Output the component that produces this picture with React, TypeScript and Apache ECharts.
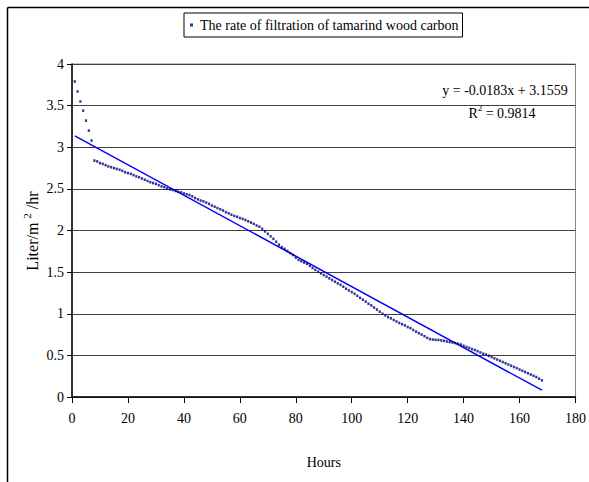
import React, { useEffect, useRef } from "react";
import * as echarts from "echarts";

// Hourly filtration rate readings (Liter/m^2/hr), first reading at hour 1
const FIRST_HOUR = 1;
const rate: number[] = [
  3.79, 3.67, 3.55, 3.44, 3.32, 3.2, 3.08,
  2.84, 2.83, 2.81, 2.8, 2.785, 2.77, 2.76, 2.75, 2.74, 2.73,
  2.717, 2.7, 2.69, 2.68, 2.665, 2.65, 2.64, 2.625, 2.61, 2.595,
  2.58, 2.57, 2.56, 2.545, 2.53, 2.52, 2.505, 2.495, 2.486, 2.475,
  2.465, 2.458, 2.445, 2.435, 2.426, 2.41, 2.39, 2.374, 2.36, 2.35,
  2.335, 2.32, 2.3, 2.286, 2.27, 2.255, 2.24, 2.22, 2.206, 2.19,
  2.175, 2.165, 2.15, 2.14, 2.126, 2.11, 2.095, 2.08, 2.06, 2.046,
  2.02, 1.99, 1.96, 1.93, 1.9, 1.865, 1.83, 1.8, 1.78, 1.755,
  1.73, 1.706, 1.675, 1.646, 1.63, 1.615, 1.6, 1.575, 1.55, 1.527,
  1.505, 1.485, 1.465, 1.446, 1.425, 1.405, 1.385, 1.365, 1.347, 1.325,
  1.3, 1.28, 1.26, 1.24, 1.215, 1.19, 1.17, 1.146, 1.12, 1.1,
  1.075, 1.05, 1.025, 1.0, 0.98, 0.96, 0.945, 0.925, 0.907, 0.89,
  0.875, 0.86, 0.84, 0.827, 0.805, 0.785, 0.767, 0.75, 0.73, 0.71,
  0.695, 0.69, 0.687, 0.685, 0.68, 0.675, 0.667, 0.66, 0.655, 0.648,
  0.64, 0.63, 0.615, 0.6, 0.59, 0.575, 0.565, 0.55, 0.535, 0.52,
  0.51, 0.495, 0.48, 0.465, 0.45, 0.435, 0.42, 0.405, 0.39, 0.375,
  0.36, 0.347, 0.33, 0.315, 0.3, 0.285, 0.27, 0.255, 0.24, 0.22,
  0.2,
];

// Linear trend line shown on the chart
const SLOPE = -0.0183;
const INTERCEPT = 3.1559;
const R2 = 0.9814;

const seriesName = "The rate of filtration of tamarind wood carbon";
const xTicks = { min: 0, max: 180, interval: 20 };
const yTicks = { min: 0, max: 4, interval: 0.5 };

const FONT = "'Liberation Serif', 'Times New Roman', serif";

export default function App() {
  const ref = useRef<HTMLDivElement>(null);

  useEffect(() => {
    if (!ref.current) return;
    const chart = echarts.init(ref.current, null, { renderer: "svg" });
    const points = rate.map((v, i) => [FIRST_HOUR + i, v]);
    const firstX = points[0][0];
    const lastX = points[points.length - 1][0];
    const trend = [
      [firstX, SLOPE * firstX + INTERCEPT],
      [lastX, SLOPE * lastX + INTERCEPT],
    ];

    chart.setOption({
      animation: false,
      backgroundColor: "#fff",
      textStyle: { fontFamily: FONT },
      grid: {
        left: 72,
        right: 13,
        top: 64,
        bottom: 85,
        show: true,
        borderColor: "#888",
        borderWidth: 1,
        backgroundColor: "transparent",
      },
      legend: {
        data: [seriesName],
        left: 184,
        top: 13,
        padding: [5, 4, 5, 6],
        borderColor: "#000",
        borderWidth: 1,
        itemWidth: 3,
        itemHeight: 3,
        itemGap: 0,
        icon: "rect",
        textStyle: { fontFamily: FONT, fontSize: 14, color: "#000", padding: [0, 0, 0, 2] },
      },
      xAxis: {
        type: "value",
        min: xTicks.min,
        max: xTicks.max,
        interval: xTicks.interval,
        name: "Hours",
        nameLocation: "middle",
        nameGap: 58,
        nameTextStyle: { fontFamily: FONT, fontSize: 14, color: "#000" },
        axisLine: { show: true, onZero: false, lineStyle: { color: "#000", width: 1.5 } },
        axisTick: { show: true, length: 6, lineStyle: { color: "#000" } },
        axisLabel: { margin: 14, fontFamily: FONT, fontSize: 14, color: "#000" },
        splitLine: { show: false },
      },
      yAxis: {
        type: "value",
        min: yTicks.min,
        max: yTicks.max,
        interval: yTicks.interval,
        axisLine: { show: true, lineStyle: { color: "#000", width: 1.5 } },
        axisTick: { show: true, length: 5, lineStyle: { color: "#000" } },
        axisLabel: { margin: 8, fontFamily: FONT, fontSize: 14, color: "#000" },
        splitLine: { show: true, lineStyle: { color: "#404040", width: 1 } },
      },
      series: [
        {
          name: seriesName,
          type: "scatter",
          data: points,
          symbol: "rect",
          symbolSize: [2.2, 2.6],
          itemStyle: { color: "#000080" },
          z: 3,
        },
        {
          name: "trend",
          type: "line",
          data: trend,
          showSymbol: false,
          symbol: "none",
          lineStyle: { color: "#0000ff", width: 1.5 },
          z: 2,
        },
      ],
      graphic: [
        {
          type: "line",
          shape: { x1: 7.5, y1: 7.5, x2: 589, y2: 7.5 },
          style: { stroke: "#000", lineWidth: 1.5 },
          silent: true,
        },
        {
          type: "line",
          shape: { x1: 7.5, y1: 7.5, x2: 7.5, y2: 482 },
          style: { stroke: "#000", lineWidth: 1.5 },
          silent: true,
        },
        {
          type: "text",
          x: 32,
          y: 231,
          rotation: Math.PI / 2,
          style: {
            text: "{a|Liter/m }{s|2}{a| /hr}",
            align: "center",
            verticalAlign: "middle",
            fill: "#000",
            rich: {
              a: { fontFamily: FONT, fontSize: 16, lineHeight: 22, fill: "#000" },
              s: { fontFamily: FONT, fontSize: 11, verticalAlign: "top", fill: "#000" },
            },
          },
        },
        {
          type: "text",
          x: 505,
          y: 90,
          style: {
            text: `y = ${SLOPE}x + ${INTERCEPT}`,
            align: "center",
            verticalAlign: "middle",
            font: `14px ${FONT}`,
            fill: "#000",
          },
        },
        {
          type: "text",
          x: 502,
          y: 113,
          style: {
            text: `{a|R}{s|2}{a| = ${R2}}`,
            align: "center",
            verticalAlign: "middle",
            fill: "#000",
            rich: {
              a: { fontFamily: FONT, fontSize: 14, lineHeight: 20, fill: "#000" },
              s: { fontFamily: FONT, fontSize: 9, verticalAlign: "top", fill: "#000" },
            },
          },
        },
      ],
    });

    return () => chart.dispose();
  }, []);

  return (
    <div
      ref={ref}
      style={{ position: "fixed", left: 0, top: 0, width: 589, height: 482 }}
    />
  );
}
